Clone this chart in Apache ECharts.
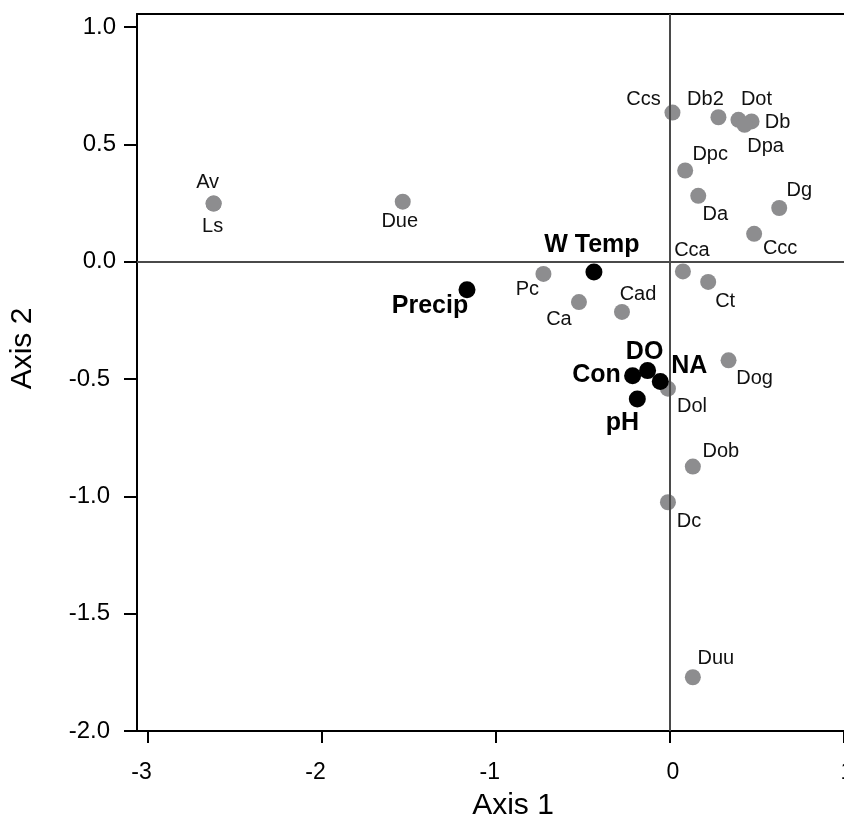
<!DOCTYPE html>
<html><head><meta charset="utf-8">
<script src="https://cdn.jsdelivr.net/npm/echarts@6/dist/echarts.min.js"></script>
<style>html,body{margin:0;padding:0;background:#fff}#c{width:844px;height:814px}</style>
</head><body><div id="c"></div>
<script>
// ---- data ----
const speciesNames = ['Av','Ls','Due','Ccs','Db2','Dot','Db','Dpa','Dpc','Da','Dg','Ccc','Cca','Ct','Cad','Ca','Pc','Dol','Dog','Dob','Dc','Duu'];
const speciesX = [-2.620,-2.620,-1.534,0.015,0.279,0.394,0.469,0.429,0.088,0.163,0.628,0.484,0.075,0.220,-0.275,-0.522,-0.726,-0.011,0.337,0.132,-0.011,0.132];
const speciesY = [0.248,0.248,0.256,0.636,0.616,0.605,0.598,0.584,0.389,0.281,0.229,0.119,-0.041,-0.086,-0.214,-0.172,-0.052,-0.541,-0.420,-0.873,-1.025,-1.771];
const envNames = ['W Temp','Precip','DO','Con','NA','pH'];
const envX = [-0.436,-1.165,-0.128,-0.214,-0.055,-0.187];
const envY = [-0.044,-0.119,-0.464,-0.486,-0.510,-0.585];
const xTicks = [-3,-2,-1,0,1];
const yTicks = [-2,-1.5,-1,-0.5,0,0.5,1];
const xTitle = 'Axis 1';
const yTitle = 'Axis 2';

// ---- label placement (styling) ----
const labelOffsets = {
  'Av':[-6,-21],'Ls':[-1,23],'Due':[-3,20],'Ccs':[-29,-13],'Db2':[-13,-18],'Dot':[18,-20],
  'Db':[26,1],'Dpa':[21,22],'Dpc':[25,-16],'Da':[17,19],'Dg':[20,-18],'Ccc':[26,15],
  'Cca':[9,-21],'Ct':[17,20],'Cad':[16,-17],'Ca':[-20,17],'Pc':[-16,16],'Dol':[24,18],
  'Dog':[26,18],'Dob':[28,-15],'Dc':[21,19],'Duu':[23,-19],
  'W Temp':[-2,-27],'Precip':[-37,16],'DO':[-3,-19],'Con':[-36,-1],'NA':[29,-15],'pH':[-15,24]
};

const FONT = '"Liberation Sans", Arial, Helvetica, sans-serif';

function build(names, xs, ys) {
  return names.map((n, i) => ({
    name: n,
    value: [xs[i], ys[i]],
    label: { offset: labelOffsets[n] || [0, 0] }
  }));
}

const fmtY = v => { const s = v.toFixed(1); return v < 0 ? '{n|' + s + '}' : '{p|' + s + '}'; };
const fmtX = v => { const s = String(v); return v < 0 ? '{n|' + s + '}' : '{p|' + s + '}'; };

const chart = echarts.init(document.getElementById('c'), null, { renderer: 'canvas' });
chart.setOption({
  animation: false,
  backgroundColor: '#fff',
  textStyle: { fontFamily: FONT },
  grid: { left: 137, right: 0, top: 14, bottom: 83, containLabel: false, outerBoundsMode: 'none' },
  xAxis: [{
    type: 'value', min: -3.06, max: 1, position: 'bottom',
    splitLine: { show: false },
    axisLine: { show: true, onZero: false, lineStyle: { color: '#000', width: 2 } },
    axisTick: { show: true, length: 12, customValues: xTicks, lineStyle: { color: '#000', width: 2 } },
    axisLabel: {
      customValues: xTicks, formatter: fmtX, margin: 30, color: '#000', fontSize: 23, fontFamily: FONT,
      rich: { n: { fontSize: 23, fontFamily: FONT, color: '#000', padding: [0, 12, 0, 0] },
              p: { fontSize: 23, fontFamily: FONT, color: '#000', padding: [0, 0, 0, 6] } }
    },
    name: xTitle, nameLocation: 'middle', nameGap: 60,
    nameTextStyle: { fontSize: 30, fontFamily: FONT, color: '#000', padding: [0, 0, 0, 45] }
  }, {
    type: 'value', min: -3.06, max: 1, position: 'top',
    splitLine: { show: false },
    axisLine: { show: true, onZero: false, lineStyle: { color: '#000', width: 2 } },
    axisTick: { show: false }, axisLabel: { show: false }
  }],
  yAxis: {
    type: 'value', min: -2, max: 1.056,
    splitLine: { show: false },
    axisLine: { show: true, onZero: false, lineStyle: { color: '#000', width: 2 } },
    axisTick: { show: true, length: 13, customValues: yTicks, lineStyle: { color: '#000', width: 2 } },
    axisLabel: {
      customValues: yTicks, formatter: fmtY, margin: 21, color: '#000', fontSize: 24, fontFamily: FONT,
      rich: { n: { fontSize: 24, fontFamily: FONT, color: '#000', padding: [0, 6, 0, 0] },
              p: { fontSize: 24, fontFamily: FONT, color: '#000' } }
    },
    name: yTitle, nameLocation: 'middle', nameGap: 99, nameRotate: 90,
    nameTextStyle: { fontSize: 30, fontFamily: FONT, color: '#000', padding: [0, 0, 0, 48] }
  },
  series: [{
    type: 'scatter', data: [], z: 1, silent: true,
    markLine: {
      silent: true, symbol: 'none', animation: false,
      label: { show: false },
      lineStyle: { color: '#4a4a4a', width: 2, type: 'solid' },
      data: [{ xAxis: 0 }, { yAxis: 0 }]
    }
  }, {
    type: 'scatter', z: 3, symbolSize: 16,
    itemStyle: { color: '#8d8d8f', opacity: 1 },
    label: {
      show: true, position: 'inside', formatter: p => p.name,
      color: '#111', fontSize: 20, fontFamily: FONT, align: 'center', verticalAlign: 'middle'
    },
    data: build(speciesNames, speciesX, speciesY)
  }, {
    type: 'scatter', z: 4, symbolSize: 17,
    itemStyle: { color: '#000', opacity: 1 },
    label: {
      show: true, position: 'inside', formatter: p => p.name,
      color: '#000', fontSize: 25, fontWeight: 'bold', fontFamily: FONT, align: 'center', verticalAlign: 'middle'
    },
    data: build(envNames, envX, envY)
  }]
});
</script>
</body></html>
